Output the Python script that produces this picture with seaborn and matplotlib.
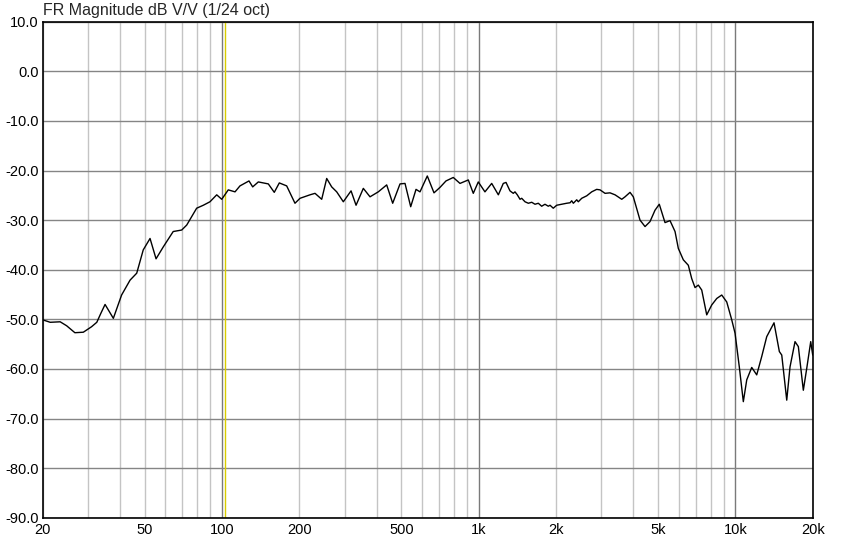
import numpy as np
import pandas as pd
import matplotlib
matplotlib.use("Agg")
import matplotlib.pyplot as plt
from matplotlib.ticker import FixedLocator, FuncFormatter, NullFormatter
import seaborn as sns

# frequency response (Hz, dB)
freq_hz = [
    20, 21.4, 23.4, 24.8, 26.7, 28.8, 31.0, 32.5, 33.7, 35.0,
    37.7, 40.6, 43.8, 46.5, 49.3, 52.4, 55.3, 59.0, 64.5, 69.6,
    72.8, 79.6, 84.5, 89.7, 95.3, 99.7, 105.7, 112.3, 117.4, 127.3,
    131.6, 138.4, 151.4, 159.7, 167.1, 178.5, 192.3, 201.2, 220, 230.2,
    244.4, 255.6, 267.3, 279.6, 296.7, 318.0, 332.6, 355.0, 377.0, 406.0,
    437.8, 462.0, 493.4, 516.0, 543.0, 569.6, 590.2, 630.2, 669.2, 706.2,
    745.2, 795.6, 845.0, 910.4, 952.0, 995.6, 1057, 1123, 1192, 1246,
    1277, 1323, 1363, 1384, 1413, 1448, 1470, 1514, 1560, 1608,
    1656, 1706, 1758, 1811, 1866, 1895, 1951, 2012, 2104, 2200,
    2268, 2302, 2336, 2408, 2442, 2518, 2634, 2754, 2880, 2968,
    3104, 3246, 3396, 3606, 3714, 3884, 4000, 4248,
    4444, 4646, 4860, 5050, 5316, 5560, 5816, 5990, 6264, 6552,
    6756, 6958, 7168, 7390, 7728, 8084, 8454, 8842, 9248, 9672,
    9964, 10352, 10732, 11066, 11572, 12102, 12658, 13238, 14134, 14826,
    15148, 15842, 16314, 17064, 17580, 18384, 18954, 19644, 20000,
]
mag_db = [
    -50.1, -50.6, -50.5, -51.3, -52.7, -52.6, -51.5, -50.6, -48.8, -47.0,
    -49.8, -45.1, -42.1, -40.7, -36.0, -33.7, -37.8, -35.4, -32.3, -32.0,
    -31.0, -27.6, -27.0, -26.3, -24.9, -25.8, -23.9, -24.3, -23.1, -22.1,
    -23.3, -22.3, -22.7, -24.4, -22.5, -23.1, -26.6, -25.6, -24.9, -24.6,
    -25.8, -21.6, -23.3, -24.3, -26.3, -24.1, -27.0, -23.6, -25.3, -24.3,
    -22.9, -26.6, -22.7, -22.6, -27.3, -23.8, -24.3, -21.1, -24.5, -23.4,
    -22.1, -21.4, -22.6, -21.9, -24.6, -22.3, -24.3, -22.6, -24.9, -22.6,
    -22.4, -24.1, -24.6, -24.3, -24.9, -25.8, -25.6, -26.3, -26.6, -26.4,
    -26.8, -26.6, -27.2, -26.8, -27.2, -27.0, -27.6, -27.0, -26.8, -26.6,
    -26.5, -26.1, -26.6, -25.9, -26.3, -25.6, -25.1, -24.3, -23.8, -23.9,
    -24.6, -24.5, -24.9, -25.8, -25.3, -24.4, -25.3, -30.0,
    -31.3, -30.3, -28.0, -26.8, -30.5, -30.1, -32.3, -35.7, -38.0, -39.1,
    -41.8, -43.6, -43.1, -44.1, -49.1, -47.1, -45.8, -45.1, -46.5, -50.1,
    -52.8, -59.6, -66.6, -62.2, -59.7, -61.2, -57.5, -53.5, -50.7, -56.5,
    -57.2, -66.3, -59.6, -54.5, -55.5, -64.3, -59.9, -54.5, -57.2,
]

x_ticks = [20, 50, 100, 200, 500, 1000, 2000, 5000, 10000, 20000]
x_labels = ["20", "50", "100", "200", "500", "1k", "2k", "5k", "10k", "20k"]
y_ticks = list(range(-90, 11, 10))
cursor_hz = 103

df = pd.DataFrame({"freq": freq_hz, "db": mag_db})

sns.set_style("white")
plt.rcParams["font.family"] = ["Liberation Sans", "DejaVu Sans"]

fig = plt.figure(figsize=(8.45, 5.5), dpi=100)
ax = fig.add_axes([0.0505, 0.0587, 0.9113, 0.9018])

# minor vertical grid (1..9 per decade), decades darker
minor = [m * d for d in (10, 100, 1000, 10000) for m in range(1, 10) if 20 <= m * d <= 20000]
for f in minor:
    dark = f in (100, 1000, 10000)
    ax.axvline(f, color="#7a7a7a" if dark else "#c4c4c4", lw=1, zorder=1)
for v in y_ticks:
    ax.axhline(v, color="#858585", lw=1, zorder=1)

ax.axvline(cursor_hz, color="#d8cc00", lw=1, zorder=2)

sns.lineplot(data=df, x="freq", y="db", ax=ax, color="black", lw=1, zorder=3)

ax.set_xscale("log")
ax.set_xlim(20, 20000)
ax.set_ylim(-90, 10)
ax.xaxis.set_major_locator(FixedLocator(x_ticks))
ax.xaxis.set_major_formatter(FuncFormatter(lambda v, p: x_labels[x_ticks.index(int(round(v)))] if int(round(v)) in x_ticks else ""))
ax.xaxis.set_minor_formatter(NullFormatter())
ax.yaxis.set_major_locator(FixedLocator(y_ticks))
ax.yaxis.set_major_formatter(FuncFormatter(lambda v, p: f"{v:.1f}"))
ax.tick_params(axis="both", length=0, labelsize=10.5, colors="black")
ax.tick_params(axis="x", which="minor", length=0)
ax.tick_params(axis="x", pad=4)
ax.tick_params(axis="y", pad=3)
ax.set_xlabel("")
ax.set_ylabel("")
for s in ax.spines.values():
    s.set_color("black")
    s.set_linewidth(1.2)

fig.text(0.0505, 0.968, "FR Magnitude dB V/V (1/24 oct)", fontsize=11.5, ha="left", va="bottom")

fig.savefig("out.png", dpi=100)
